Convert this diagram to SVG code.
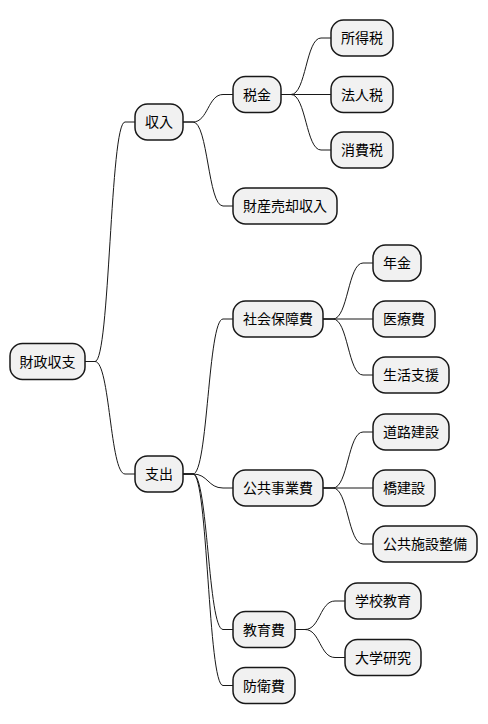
<svg xmlns="http://www.w3.org/2000/svg" width="488" height="724" viewBox="0 0 488 724">
<style>
.n rect{fill:#F1F1F1;stroke:#181818;stroke-width:1.5}
.n text{font-family:"Noto Sans CJK JP","Noto Sans",sans-serif;font-size:14px;fill:#000;text-anchor:middle}
#edges path{fill:none;stroke:#181818;stroke-width:1}
</style>
<rect width="488" height="724" fill="#FFFFFF"/>
<g id="edges">
<path d="M85,361.5 L95,361.5 C110,361.5 110,122 125,122 L135,122"/>
<path d="M85,361.5 L95,361.5 C110,361.5 110,474 125,474 L135,474"/>
<path d="M183,122 L193,122 C208,122 208,94.5 223,94.5 L233,94.5"/>
<path d="M183,122 L193,122 C208,122 208,206 223,206 L233,206"/>
<path d="M281,94.5 L291,94.5 C306,94.5 306,38 321,38 L331,38"/>
<path d="M281,94.5 L331,94.5"/>
<path d="M281,94.5 L291,94.5 C306,94.5 306,150 321,150 L331,150"/>
<path d="M183,474 L193,474 C208,474 208,319 223,319 L233,319"/>
<path d="M183,474 L193,474 C208,474 208,488 223,488 L233,488"/>
<path d="M183,474 L193,474 C208,474 208,629.5 223,629.5 L233,629.5"/>
<path d="M183,474 L193,474 C208,474 208,685.5 223,685.5 L233,685.5"/>
<path d="M323,319 L333,319 C348,319 348,263 363,263 L373,263"/>
<path d="M323,319 L373,319"/>
<path d="M323,319 L333,319 C348,319 348,375 363,375 L373,375"/>
<path d="M323,488 L333,488 C348,488 348,432 363,432 L373,432"/>
<path d="M323,488 L373,488"/>
<path d="M323,488 L333,488 C348,488 348,544 363,544 L373,544"/>
<path d="M295,629.5 L305,629.5 C320,629.5 320,601 335,601 L345,601"/>
<path d="M295,629.5 L305,629.5 C320,629.5 320,657.5 335,657.5 L345,657.5"/>
</g>
<g id="n-root" class="n"><rect x="10" y="343.5" width="75" height="36" rx="12.5"/><text x="47.5" y="366.5">財政収支</text></g>
<g id="n-income" class="n"><rect x="135" y="104" width="48" height="36" rx="12.5"/><text x="159" y="127">収入</text></g>
<g id="n-expense" class="n"><rect x="135" y="456" width="48" height="36" rx="12.5"/><text x="159" y="479">支出</text></g>
<g id="n-tax" class="n"><rect x="233" y="76.5" width="48" height="36" rx="12.5"/><text x="257" y="99.5">税金</text></g>
<g id="n-asset" class="n"><rect x="233" y="188" width="104" height="36" rx="12.5"/><text x="285" y="211">財産売却収入</text></g>
<g id="n-income-tax" class="n"><rect x="331" y="20" width="62" height="36" rx="12.5"/><text x="362" y="43">所得税</text></g>
<g id="n-corp-tax" class="n"><rect x="331" y="76.5" width="62" height="36" rx="12.5"/><text x="362" y="99.5">法人税</text></g>
<g id="n-cons-tax" class="n"><rect x="331" y="132" width="62" height="36" rx="12.5"/><text x="362" y="155">消費税</text></g>
<g id="n-social" class="n"><rect x="233" y="301" width="90" height="36" rx="12.5"/><text x="278" y="324">社会保障費</text></g>
<g id="n-pension" class="n"><rect x="373" y="245" width="48" height="36" rx="12.5"/><text x="397" y="268">年金</text></g>
<g id="n-medical" class="n"><rect x="373" y="301" width="62" height="36" rx="12.5"/><text x="404" y="324">医療費</text></g>
<g id="n-welfare" class="n"><rect x="373" y="357" width="76" height="36" rx="12.5"/><text x="411" y="380">生活支援</text></g>
<g id="n-public" class="n"><rect x="233" y="470" width="90" height="36" rx="12.5"/><text x="278" y="493">公共事業費</text></g>
<g id="n-road" class="n"><rect x="373" y="414" width="76" height="36" rx="12.5"/><text x="411" y="437">道路建設</text></g>
<g id="n-bridge" class="n"><rect x="373" y="470" width="62" height="36" rx="12.5"/><text x="404" y="493">橋建設</text></g>
<g id="n-facility" class="n"><rect x="373" y="526" width="104" height="36" rx="12.5"/><text x="425" y="549">公共施設整備</text></g>
<g id="n-edu" class="n"><rect x="233" y="611.5" width="62" height="36" rx="12.5"/><text x="264" y="634.5">教育費</text></g>
<g id="n-defense" class="n"><rect x="233" y="667.5" width="62" height="36" rx="12.5"/><text x="264" y="690.5">防衛費</text></g>
<g id="n-school" class="n"><rect x="345" y="583" width="76" height="36" rx="12.5"/><text x="383" y="606">学校教育</text></g>
<g id="n-univ" class="n"><rect x="345" y="639.5" width="76" height="36" rx="12.5"/><text x="383" y="662.5">大学研究</text></g>
</svg>
